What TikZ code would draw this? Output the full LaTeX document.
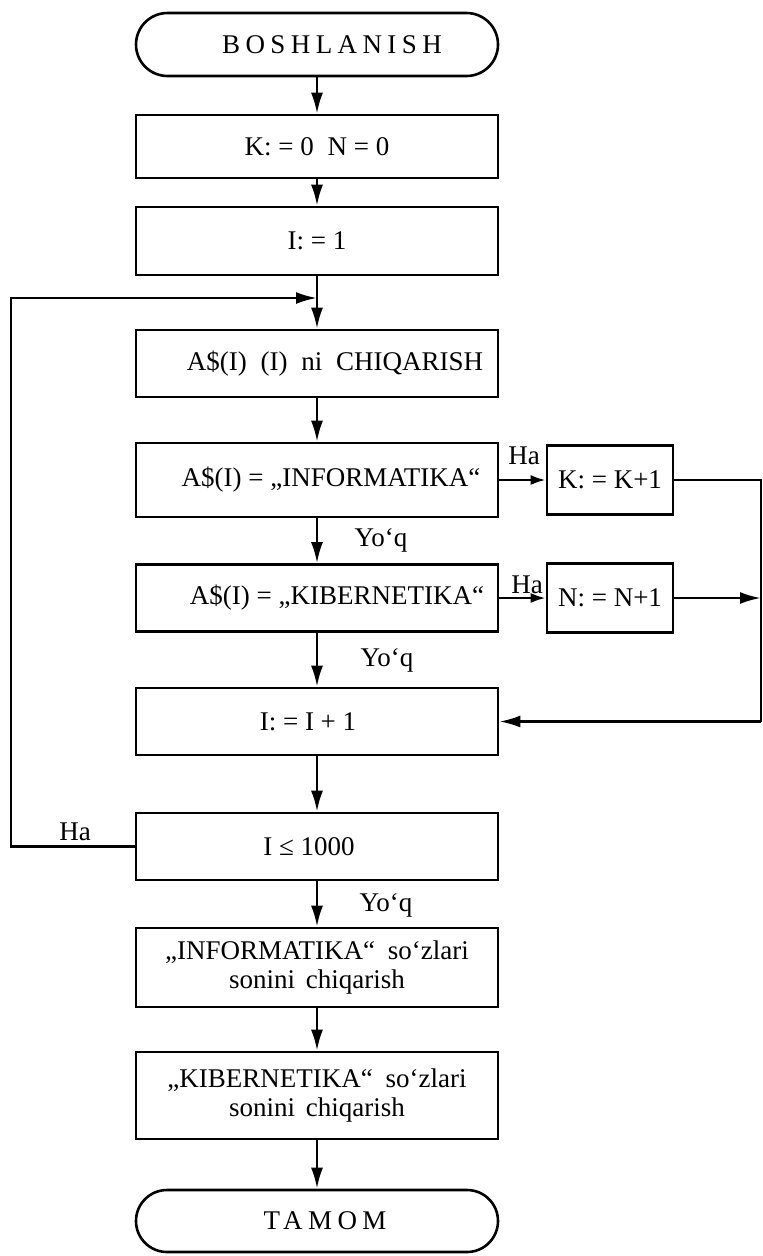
\documentclass[tikz,border=0pt]{standalone}
\usepackage{fontspec}
\setmainfont{Liberation Serif}
\newfontfamily\spacedfont[LetterSpace=20]{Liberation Serif}
\usetikzlibrary{arrows.meta,shapes.misc}
\begin{document}
\begin{tikzpicture}[x=1pt,y=-1pt, line width=2.6pt,
  every node/.style={font=\fontsize{27}{29}\selectfont, inner sep=0pt},
  box/.style={draw, rectangle, minimum width=362pt},
  term/.style={draw, rounded rectangle, minimum width=362pt, minimum height=63pt},
  smallbox/.style={draw, rectangle, minimum width=126pt, minimum height=69pt},
  arr/.style={-{Latex[length=21pt,width=12pt]}},
  sarr/.style={-{Latex[length=15pt,width=10pt]}}]
\useasboundingbox (0,0) rectangle (763,1256);

\node[term, label={[xshift=15pt]center:{\spacedfont BOSHLANISH}}] (start) at (317,44.5) {};
\node[box, minimum height=63pt] (k0) at (317,146.5) {K: = 0\hspace{14pt}N = 0};
\node[box, minimum height=68pt] (i1) at (317,241) {I: = 1};
\coordinate (j) at (317,298);
\node[box, minimum height=67pt, label={[xshift=18pt]center:{A\$(I)\hspace{7pt} (I)\hspace{7pt} ni\hspace{7pt} CHIQARISH}}] (a) at (317,363.5) {};
\node[box, minimum height=74pt, label={[xshift=14pt]center:{A\$(I) = „INFORMATIKA“}}] (inf) at (317,480) {};
\node[smallbox] (kk) at (610,480) {K: = K+1};
\node[box, minimum height=67pt, label={[xshift=20pt]center:{A\$(I) = „KIBERNETIKA“}}] (kib) at (317,598) {};
\node[smallbox] (nn) at (610,598) {N: = N+1};
\node[box, minimum height=67pt, label={[xshift=-9pt]center:{I: = I + 1}}] (ii) at (317,721.5) {};
\node[box, minimum height=67pt, label={[xshift=-8pt]center:{I ≤ 1000}}] (le) at (317,846.5) {};
\node[box, minimum height=79pt, align=center] (infs) at (317,967.5) {„INFORMATIKA“\hspace{6pt} so‘zlari\\sonini\hspace{4pt} chiqarish};
\node[box, minimum height=87pt, align=center] (kibs) at (317,1095.5) {„KIBERNETIKA“\hspace{6pt} so‘zlari\\sonini\hspace{4pt} chiqarish};
\node[term, minimum height=62pt, label={[xshift=8pt]center:{\spacedfont TAMOM}}] (end) at (317,1221) {};

\coordinate (r1) at (761,480);
\coordinate (r2) at (761,598);
\coordinate (r3) at (761,721.5);
\coordinate (l1) at (11,846.5);
\coordinate (l2) at (11,298);

\draw[arr] (start) -- (k0);
\draw[arr] (k0) -- (i1);
\draw (i1) -- (j);
\draw[arr] (j) -- (a);
\draw[arr] (a) -- (inf);
\draw[sarr] (inf) -- (kk);
\draw[arr] (inf) -- (kib);
\draw[sarr] (kib) -- (nn);
\draw (kk) -- (r1) -- (r3);
\draw[arr] (nn) -- (r2);
\draw[arr] (r3) -- (ii);
\draw[arr] (kib) -- (ii);
\draw[arr] (ii) -- (le);
\draw[arr] (le.west) -- (l1) -- (l2) -- (j);
\draw[arr] (le) -- (infs);
\draw[arr] (infs) -- (kibs);
\draw[arr] (kibs) -- (end);

\node (ha1) at (524,456) {Ha};
\node (ha2) at (527,585) {Ha};
\node (ha3) at (75,832) {Ha};
\node (y1) at (381,540) {Yo‘q};
\node (y2) at (387,660) {Yo‘q};
\node (y3) at (386,905) {Yo‘q};
\end{tikzpicture}
\end{document}
